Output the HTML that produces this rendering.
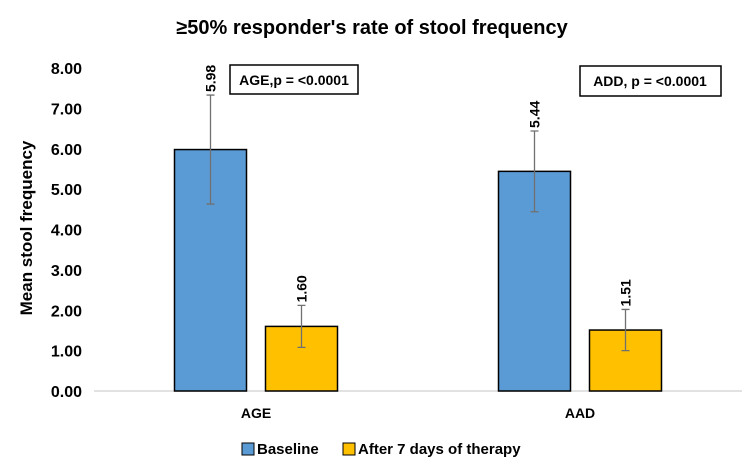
<!DOCTYPE html>
<html><head><meta charset="utf-8"><style>
body{margin:0;background:#fff;width:744px;height:461px;overflow:hidden;font-family:"Liberation Sans",Arial,sans-serif}
</style></head><body>
<svg id="chart" width="744" height="461" xmlns="http://www.w3.org/2000/svg">
<text x="372" y="34" text-anchor="middle" font-size="20" font-weight="bold" fill="#000">≥50% responder's rate of stool frequency</text>
<text transform="translate(32,228) rotate(-90)" text-anchor="middle" font-size="17" font-weight="bold">Mean stool frequency</text>
<g id="yticks"></g><g id="bars"></g>
<rect x="230" y="65" width="128" height="29" fill="#fff" stroke="#000" stroke-width="1.5"/>
<text x="294" y="85" text-anchor="middle" font-size="14" font-weight="bold">AGE,p = &lt;0.0001</text>
<rect x="580" y="66" width="141" height="30" fill="#fff" stroke="#000" stroke-width="1.5"/>
<text x="650" y="86" text-anchor="middle" font-size="14" font-weight="bold">ADD, p = &lt;0.0001</text>
<g>
<rect x="242" y="443" width="12" height="12" fill="#5b9bd5" stroke="#000"/>
<text x="257" y="454" font-size="15" font-weight="bold">Baseline</text>
<rect x="343" y="443" width="12" height="12" fill="#ffc000" stroke="#000"/>
<text x="358" y="454" font-size="15" font-weight="bold">After 7 days of therapy</text>
</g>
</svg>
<script>
const categories=["AGE","AAD"];
const baseline=[5.98,5.44];
const after=[1.60,1.51];
const baselineErr=[1.35,1.0];
const afterErr=[0.52,0.51];
const yTicks=[0,1,2,3,4,5,6,7,8];
const NS="http://www.w3.org/2000/svg";
const x0=94,x1=742,y0=391,yTop=68,yMax=8;
const y=v=>y0-(v/yMax)*(y0-yTop);
const catW=(x1-x0)/categories.length;
const cx=i=>x0+catW*(i+0.5);
function mk(tag,attrs,parent){const e=document.createElementNS(NS,tag);for(const k in attrs)e.setAttribute(k,attrs[k]);parent.appendChild(e);return e;}
const yt=document.getElementById('yticks');
yTicks.forEach(t=>{const e=mk('text',{x:82,y:y(t)+6,'text-anchor':'end','font-size':16,'font-weight':'bold'},yt);
e.textContent=t.toFixed(2);

});
const ax=mk('line',{x1:x0,x2:x1,y1:y0,y2:y0,stroke:'#d9d9d9','stroke-width':1.5},yt);


const g=document.getElementById('bars');
const bw=72,gap=19;
categories.forEach((c,i)=>{
 const l=mk('text',{x:cx(i),y:418,'text-anchor':'middle','font-size':14,'font-weight':'bold'},g);
 l.textContent=c;
 
 
 [[baseline,baselineErr,'#5b9bd5',cx(i)-gap/2-bw,'baseline'],[after,afterErr,'#ffc000',cx(i)+gap/2,'after']].forEach(([vals,errs,col,bx,nm])=>{
  const v=vals[i],e=errs[i];
  const r=mk('rect',{x:bx,y:y(v),width:bw,height:y0-y(v),fill:col,stroke:'#000','stroke-width':1.5},g);
  
  
  const mx=bx+bw/2;
  const eb=mk('path',{d:`M${mx},${y(v+e)}V${y(v-e)}M${mx-4},${y(v+e)}H${mx+4}M${mx-4},${y(v-e)}H${mx+4}`,stroke:'#707070','stroke-width':1.3,fill:'none'},g);
  
  
  const t=mk('text',{transform:`translate(${mx+5},${y(v+e)-3}) rotate(-90)`,'font-size':14,'font-weight':'bold'},g);
  t.textContent=v.toFixed(2);
  
  
 });
});
</script>
</body></html>
